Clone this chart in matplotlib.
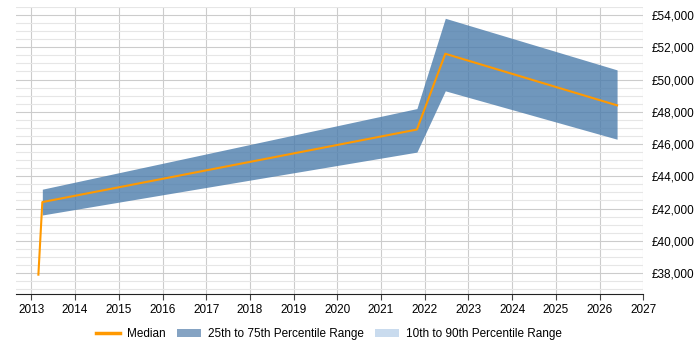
import numpy as np
import matplotlib
matplotlib.use("Agg")
import matplotlib.pyplot as plt
from matplotlib.patches import Patch
from matplotlib.lines import Line2D
from matplotlib.ticker import MultipleLocator, FuncFormatter

plt.rcParams['font.family'] = ['Liberation Sans', 'DejaVu Sans']

# median salary over time
median_x = [2013.16, 2013.25, 2021.82, 2022.47, 2026.4]
median_y = [37900, 42400, 46900, 51600, 48400]

# 25th to 75th percentile band
band_x = [2013.25, 2021.82, 2022.47, 2026.4]
band_lo = [41600, 45500, 49300, 46300]
band_hi = [43200, 48200, 53800, 50600]

years = list(range(2013, 2028))

fig = plt.figure(figsize=(7, 3.5), dpi=100)
ax = fig.add_axes([0.023, 0.16, 0.896, 0.82])

ax.fill_between(band_x, band_lo, band_hi, color="#4c7dac", alpha=0.8, linewidth=0, zorder=2)
ax.plot(median_x, median_y, color="#ff9900", linewidth=1.5, zorder=3)

ax.set_xlim(2012.65, 2027)
ax.set_ylim(36700, 54500)
ax.set_xticks(years)
ax.set_xticklabels([str(y) for y in years], fontsize=8.5)
ax.yaxis.set_major_locator(MultipleLocator(2000))
ax.yaxis.set_minor_locator(MultipleLocator(500))
ax.yaxis.set_major_formatter(FuncFormatter(lambda v, p: "£{:,.0f}".format(v)))
ax.yaxis.tick_right()
ax.tick_params(axis="y", which="both", length=0, labelsize=8.5, pad=6)
ax.tick_params(axis="x", length=4, color="#444444", labelsize=8.5)

ax.grid(axis="x", color="#cccccc", linewidth=0.8, zorder=0)
ax.grid(axis="y", which="major", color="#cccccc", linewidth=0.8, zorder=0)
ax.grid(axis="y", which="minor", color="#e6e6e6", linewidth=0.8, zorder=0)
ax.set_axisbelow(True)

for s in ["top", "right", "left"]:
    ax.spines[s].set_visible(False)
ax.spines["bottom"].set_color("#222222")

handles = [
    Line2D([0], [0], color="#ff9900", linewidth=2.5),
    Patch(facecolor="#85a3c3", edgecolor="none"),
    Patch(facecolor="#c9dbee", edgecolor="none"),
]
labels = ["Median", "25th to 75th Percentile Range", "10th to 90th Percentile Range"]
fig.legend(handles, labels, loc="center", bbox_to_anchor=(0.47, 0.045), ncol=3,
           frameon=False, fontsize=8.5, handlelength=2.0, columnspacing=1.0,
           handletextpad=0.6)

fig.savefig("out.png", dpi=100)
